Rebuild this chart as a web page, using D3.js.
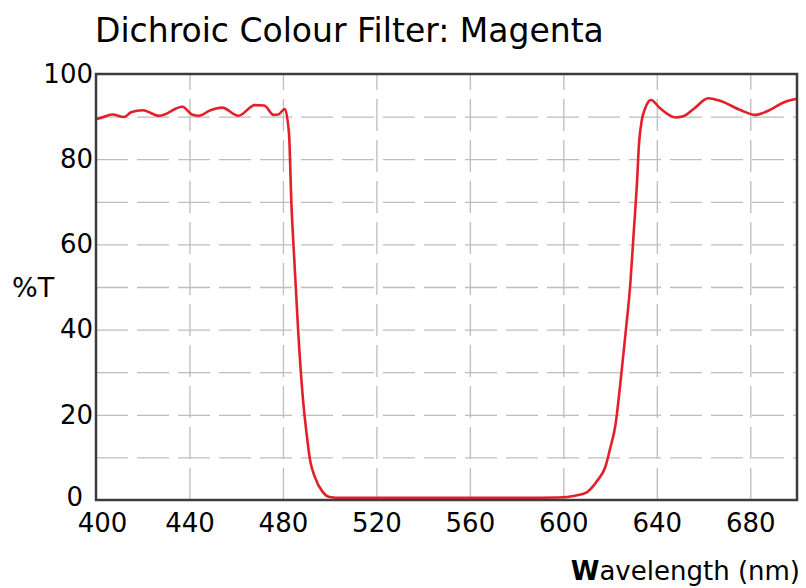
<!DOCTYPE html>
<html>
<head>
<meta charset="utf-8">
<script src="https://cdn.jsdelivr.net/npm/d3@7"></script>
<style>
body { margin: 0; background: #fff; }
text { font-family: "DejaVu Sans", sans-serif; fill: #000; }
</style>
</head>
<body>
<div id="chart"></div>
<script>
var svgWidth = 806;
var svgHeight = 588;

var margin = { top: 74, right: 9, bottom: 88, left: 96 };
var chartWidth = svgWidth - margin.left - margin.right;
var chartHeight = svgHeight - margin.top - margin.bottom;

// wavelength (nm) and transmittance (%T)
var wavelengths = [400, 402, 407, 412, 415, 420, 427, 437, 441, 444, 449, 454, 461, 468, 472, 476, 478, 480.8,
  482.6, 483.6, 485, 486.6, 488.6, 490.1, 491.6, 493.6, 497, 500, 505, 520, 540, 560, 580, 598,
  605, 610, 614.5, 618, 620, 622.3, 624.4, 626.6, 628.7, 630.1, 631.5, 632.4, 633.6, 635, 637.5,
  641.5, 648, 651, 656, 662, 667, 676, 682, 687, 695, 700];
var transmittance = [89.4, 89.7, 90.5, 89.9, 91.0, 91.5, 90.2, 92.3, 90.5, 90.2, 91.5, 92.1, 90.2, 92.7, 92.6, 90.4, 90.5, 91.8,
  86, 70, 55, 39, 23.5, 15.7, 9.4, 5.5, 1.9, 0.7, 0.5, 0.5, 0.5, 0.5, 0.5, 0.6,
  1.0, 1.8, 4.5, 7.8, 12, 17.6, 27.4, 39, 51, 62.6, 74.3, 83.7, 89.2, 91.9, 93.9,
  91.9, 89.8, 90, 91.9, 94.3, 93.7, 91.5, 90.4, 91.2, 93.5, 94.2];

var xTicks = [400, 440, 480, 520, 560, 600, 640, 680];
var yTicks = [0, 20, 40, 60, 80, 100];
var yGrid = [10, 20, 30, 40, 50, 60, 70, 80, 90];

var data = wavelengths.map(function(w, i) { return { wl: w, t: transmittance[i] }; });

var svg = d3.select("#chart")
  .append("svg")
  .attr("width", svgWidth)
  .attr("height", svgHeight);

var chartGroup = svg.append("g")
  .attr("transform", `translate(${margin.left}, ${margin.top})`);

var xLinearScale = d3.scaleLinear().domain([400, 700]).range([0, chartWidth]);
var yLinearScale = d3.scaleLinear().domain([0, 100]).range([chartHeight, 0]);

// grid
chartGroup.append("g")
  .attr("class", "grid")
  .call(d3.axisLeft(yLinearScale).tickValues(yGrid).tickSize(-chartWidth).tickFormat(""))
  .call(g => g.select(".domain").remove());

chartGroup.append("g")
  .attr("class", "grid")
  .attr("transform", `translate(0,${chartHeight})`)
  .call(d3.axisBottom(xLinearScale).tickValues(xTicks.slice(1)).tickSize(-chartHeight).tickFormat(""))
  .call(g => g.select(".domain").remove());

chartGroup.selectAll(".grid line")
  .attr("stroke", "#bdbdbd")
  .attr("stroke-width", 1.3)
  .attr("stroke-dasharray", "32,9");

// curve
var line = d3.line()
  .x(d => xLinearScale(d.wl))
  .y(d => yLinearScale(d.t))
  .curve(d3.curveMonotoneX);

chartGroup.append("path")
  .datum(data)
  .attr("fill", "none")
  .attr("stroke", "#e3202a")
  .attr("stroke-width", 2.6)
  .attr("stroke-linejoin", "round")
  .attr("d", line);

// frame
chartGroup.append("rect")
  .attr("x", 0)
  .attr("y", 0)
  .attr("width", chartWidth)
  .attr("height", chartHeight)
  .attr("fill", "none")
  .attr("stroke", "#3c3c3c")
  .attr("stroke-width", 2.5);

// tick labels
var xAxis = chartGroup.append("g")
  .attr("transform", `translate(0,${chartHeight})`)
  .call(d3.axisBottom(xLinearScale).tickValues(xTicks).tickSize(0).tickPadding(11));
xAxis.attr("font-family", null).attr("font-size", null);
xAxis.select(".domain").remove();
xAxis.selectAll("text")
  .attr("font-size", 26)
  .attr("dy", "0.8em")
  .attr("dx", d => d == 400 ? 6 : 0);

var yAxis = chartGroup.append("g")
  .call(d3.axisLeft(yLinearScale).tickValues(yTicks).tickSize(0).tickPadding(3));
yAxis.attr("font-family", null).attr("font-size", null);
yAxis.select(".domain").remove();
yAxis.selectAll("text")
  .attr("font-size", 26)
  .attr("dx", d => d == 0 ? -10 : 0)
  .attr("dy", d => d == 0 ? "0.2em" : "0.32em");

// titles
svg.append("text")
  .attr("x", 95)
  .attr("y", 42)
  .attr("font-size", 33)
  .text("Dichroic Colour Filter: Magenta");

svg.append("text")
  .attr("x", 12)
  .attr("y", 297)
  .attr("font-size", 27)
  .text("%T");

var xLabel = svg.append("text")
  .attr("x", 800)
  .attr("y", 580)
  .attr("text-anchor", "end")
  .attr("font-size", 26);
xLabel.append("tspan").attr("font-weight", "bold").text("W");
xLabel.append("tspan").text("avelength (nm)");
</script>
</body>
</html>
